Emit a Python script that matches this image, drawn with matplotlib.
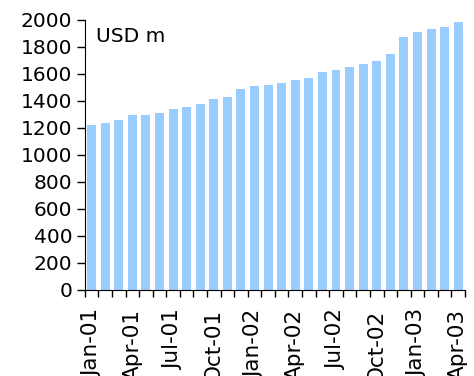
import numpy as np
import matplotlib
matplotlib.use("Agg")
import matplotlib.pyplot as plt

months = ["Jan", "Feb", "Mar", "Apr", "May", "Jun",
          "Jul", "Aug", "Sep", "Oct", "Nov", "Dec"]
categories = [f"{m}-{y:02d}" for y in (1, 2) for m in months] + \
             [f"{m}-03" for m in months[:4]]
values = [1220, 1235, 1257, 1294, 1294, 1309, 1338, 1353, 1375, 1412,
          1427, 1486, 1508, 1516, 1531, 1553, 1568, 1612, 1627, 1649,
          1671, 1694, 1746, 1871, 1908, 1930, 1945, 1982]
y_ticks = list(range(0, 2001, 200))

fig = plt.figure(figsize=(4.74, 3.76), dpi=100)
ax = fig.add_axes([0.179, 0.229, 0.802, 0.718])

x = np.arange(len(values))
ax.bar(x, values, width=0.66, color="#99CCFF")

ax.set_xlim(-0.5, len(values) - 0.5)
ax.set_ylim(0, 2000)
ax.set_yticks(y_ticks)
ax.tick_params(axis="y", labelsize=14.5, length=6, width=1, pad=3)

# tick marks between categories, labels every third month
ax.set_xticks(x[::3])
ax.set_xticklabels(categories[::3], rotation=90, fontsize=15.5)
ax.set_xticks(np.arange(len(values) + 1) - 0.5, minor=True)
ax.tick_params(axis="x", which="major", length=0, pad=14)
ax.tick_params(axis="x", which="minor", length=5, width=1)

for side in ("top", "right"):
    ax.spines[side].set_visible(False)

ax.text(0.03, 0.94, "USD m", transform=ax.transAxes, fontsize=14.5,
        va="center", ha="left")

fig.savefig("out.png", dpi=100)
